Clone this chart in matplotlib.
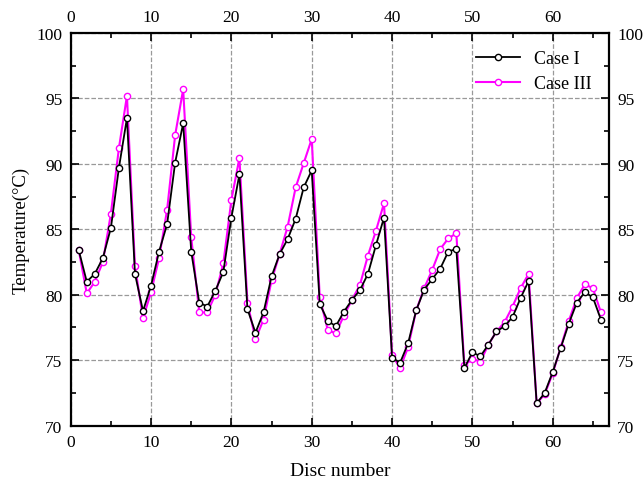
import matplotlib

matplotlib.use("Agg")
import matplotlib.pyplot as plt
from matplotlib.ticker import MultipleLocator

plt.rcParams["font.family"] = ["Liberation Serif", "DejaVu Serif"]

disc = list(range(1, 67))

case_1 = [83.4, 81.0, 81.6, 82.8, 85.1, 89.7, 93.5, 81.6, 78.75, 80.7,
          83.3, 85.4, 90.1, 93.1, 83.3, 79.4, 79.1, 80.3, 81.75, 85.9,
          89.2, 78.9, 77.1, 78.65, 81.4, 83.1, 84.25, 85.8, 88.2, 89.5,
          79.3, 78.0, 77.6, 78.7, 79.6, 80.35, 81.6, 83.8, 85.9, 75.2,
          74.8, 76.3, 78.8, 80.4, 81.2, 82.0, 83.3, 83.5, 74.4, 75.6,
          75.3, 76.2, 77.2, 77.6, 78.3, 79.75, 81.05, 71.7, 72.5, 74.1,
          75.95, 77.8, 79.4, 80.2, 79.8, 78.1]

case_3 = [83.4, 80.1, 81.0, 82.5, 86.2, 91.2, 95.2, 82.2, 78.2, 80.2,
          82.8, 86.5, 92.2, 95.7, 84.4, 78.65, 78.65, 80.0, 82.4, 87.25,
          90.45, 79.4, 76.6, 78.1, 81.1, 83.1, 85.2, 88.2, 90.05, 91.9,
          79.8, 77.3, 77.05, 78.4, 79.6, 80.75, 83.0, 84.9, 87.0, 75.4,
          74.4, 76.0, 78.8, 80.5, 81.9, 83.5, 84.3, 84.7, 74.6, 75.1,
          74.9, 76.2, 77.2, 77.9, 79.1, 80.5, 81.6, 71.7, 72.4, 74.0,
          76.0, 78.0, 79.75, 80.8, 80.5, 78.65]

fig = plt.figure(figsize=(6.44, 4.85), dpi=100)
ax = fig.add_axes([0.1098, 0.1203, 0.8358, 0.8096])

ax.plot(disc, case_1, "-o", color="black", lw=1.3, ms=4.5,
        mfc="white", mec="black", mew=1.0, label="Case I", zorder=3)
ax.plot(disc, case_3, "-o", color="#ff00ff", lw=1.5, ms=4.5,
        mfc="white", mec="#ff00ff", mew=1.0, label="Case III", zorder=2)

ax.set_xlim(0, 67)
ax.set_ylim(70, 100)
ax.xaxis.set_major_locator(MultipleLocator(10))
ax.xaxis.set_minor_locator(MultipleLocator(5))
ax.yaxis.set_major_locator(MultipleLocator(5))
ax.yaxis.set_minor_locator(MultipleLocator(2.5))
ax.tick_params(which="both", direction="in", top=True, right=True,
               labeltop=True, labelright=True, labelsize=12.5)
ax.tick_params(which="major", length=6, width=1.2, pad=6)
ax.tick_params(which="minor", length=3.5, width=1.2)
for s in ax.spines.values():
    s.set_linewidth(1.6)

ax.grid(True, which="major", ls="--", color="#999999", lw=0.9)

ax.set_xlabel("Disc number", fontsize=14, labelpad=9)
ax.set_ylabel("Temperature(\u00b0C)", fontsize=13.5, labelpad=5)

ax.legend(loc="upper right", frameon=False, fontsize=13,
          handlelength=2.4, borderaxespad=0.55, labelspacing=0.45)

fig.savefig("out.png", dpi=100)
